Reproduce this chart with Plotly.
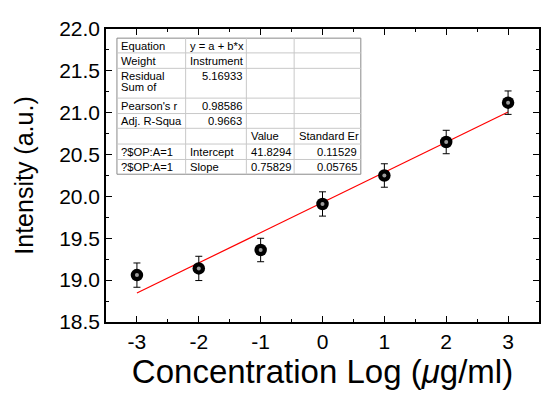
import numpy as np
import plotly.graph_objects as go

# ---- data ----
conc_log = [-3, -2, -1, 0, 1, 2, 3]
intensity = [19.06, 19.14, 19.36, 19.91, 20.25, 20.65, 21.12]
err = [0.145, 0.145, 0.14, 0.145, 0.14, 0.14, 0.14]

x_ticks = [-3, -2, -1, 0, 1, 2, 3]
y_ticks = [18.5, 19.0, 19.5, 20.0, 20.5, 21.0, 21.5, 22.0]

table_rows = [
    ["Equation", "y = a + b*x", "", ""],
    ["Weight", "Instrument", "", ""],
    ["Residual|Sum of", "5.16933", "", ""],
    ["Pearson's r", "0.98586", "", ""],
    ["Adj. R-Squa", "0.9663", "", ""],
    ["", "", "Value", "Standard Er"],
    ["?$OP:A=1", "Intercept", "41.8294", "0.11529"],
    ["?$OP:A=1", "Slope", "0.75829", "0.05765"],
]

# linear fit drawn from data
slope, intercept = np.polyfit(conc_log, intensity, 1)
fit_x = [min(conc_log), max(conc_log)]
fit_y = [intercept + slope * v for v in fit_x]

# page body has an 8px margin; compensate so the plot lands where intended
OFF = 8
W, H = 550 - OFF, 396 - OFF
ML, MR, MT, MB = 106 - OFF, 9, 24 - OFF, 74
PW, PH = W - ML - MR, H - MT - MB

def px(x):
    return (x - OFF - ML) / PW

def py(y):
    return (H - MB - (y - OFF)) / PH

fig = go.Figure()

fig.add_trace(go.Scatter(
    x=fit_x, y=fit_y, mode="lines",
    line=dict(color="#ff0000", width=1.2), showlegend=False, hoverinfo="skip"))

fig.add_trace(go.Scatter(
    x=conc_log, y=intensity, mode="markers",
    marker=dict(color="black", size=12.5, line=dict(width=0)),
    error_y=dict(type="data", array=err, visible=True, color="black",
                 thickness=1, width=3.5),
    showlegend=False))

fig.add_trace(go.Scatter(
    x=conc_log, y=intensity, mode="markers",
    marker=dict(color="#9c9c9c", size=4, line=dict(width=0)),
    showlegend=False, hoverinfo="skip"))

shapes = []
annotations = []

# table geometry (screen pixels)
col_x = [117, 186, 247, 295, 362]
row_y = [33.3, 48.3, 64, 94.3, 110, 125, 141, 156.7, 171.7]

shapes.append(dict(type="rect", xref="paper", yref="paper",
                   x0=px(col_x[0]), x1=px(col_x[-1]),
                   y0=py(row_y[-1]), y1=py(row_y[0]),
                   fillcolor="white", line=dict(color="#8a8a8a", width=1),
                   layer="above"))
for yv in row_y[1:-1]:
    shapes.append(dict(type="line", xref="paper", yref="paper",
                       x0=px(col_x[0]), x1=px(col_x[-1]), y0=py(yv), y1=py(yv),
                       line=dict(color="#c8c8c8", width=1), layer="above"))
for xv in col_x[1:-1]:
    shapes.append(dict(type="line", xref="paper", yref="paper",
                       x0=px(xv), x1=px(xv), y0=py(row_y[-1]), y1=py(row_y[0]),
                       line=dict(color="#c8c8c8", width=1), layer="above"))

tfont = dict(family="Liberation Sans, Arial, sans-serif", size=11.2, color="black")
numeric_right = {(2, 1), (3, 1), (4, 1), (6, 3), (7, 3)}
for r, row in enumerate(table_rows):
    top, bot = row_y[r], row_y[r + 1]
    for c, txt in enumerate(row):
        if not txt:
            continue
        if (r, c) in numeric_right:
            xa, anchor = col_x[c + 1] - 2, "right"
        else:
            xa, anchor = col_x[c] + 2.5, "left"
        if r == 2:
            lines = txt.split("|")
            centers = [top + 8 + 11 * i for i in range(len(lines))]
        else:
            lines = [txt]
            centers = [(top + bot) / 2]
        for ln, yc in zip(lines, centers):
            annotations.append(dict(
                x=px(xa), y=py(yc), xref="paper", yref="paper",
                text=ln, showarrow=False, xanchor=anchor, yanchor="middle",
                font=tfont, align="left"))

axis_font = dict(family="Liberation Sans, Arial, sans-serif", size=21, color="black")
xtitle_font = dict(family="Liberation Sans, Arial, sans-serif", size=33, color="black")
ytitle_font = dict(family="Liberation Sans, Arial, sans-serif", size=25, color="black")

fig.update_layout(
    width=W, height=H,
    margin=dict(l=ML, r=MR, t=MT, b=MB, pad=0),
    paper_bgcolor="white", plot_bgcolor="white",
    shapes=shapes, annotations=annotations,
    xaxis=dict(
        range=[-3.5, 3.5], tickvals=x_ticks, ticktext=[str(v) for v in x_ticks],
        ticks="inside", ticklen=6, tickwidth=1, tickcolor="black",
        minor=dict(dtick=0.5, tick0=0, ticks="inside", ticklen=3, tickcolor="black"),
        showline=True, linecolor="black", linewidth=1.5, mirror="allticks",
        showgrid=False, zeroline=False, tickfont=axis_font,
        title=dict(text="Concentration Log (<i>μ</i>g/ml)", font=xtitle_font, standoff=0),
    ),
    yaxis=dict(
        range=[18.5, 22.0], tickvals=y_ticks, ticktext=[f"{v:.1f}" for v in y_ticks],
        ticks="inside", ticklen=6, tickwidth=1, tickcolor="black",
        minor=dict(dtick=0.25, tick0=0, ticks="inside", ticklen=3, tickcolor="black"),
        showline=True, linecolor="black", linewidth=1.5, mirror="allticks",
        showgrid=False, zeroline=False, tickfont=axis_font,
        title=dict(text="Intensity (a.u.)", font=ytitle_font, standoff=18),
    ),
)

fig.write_html("out.html")
